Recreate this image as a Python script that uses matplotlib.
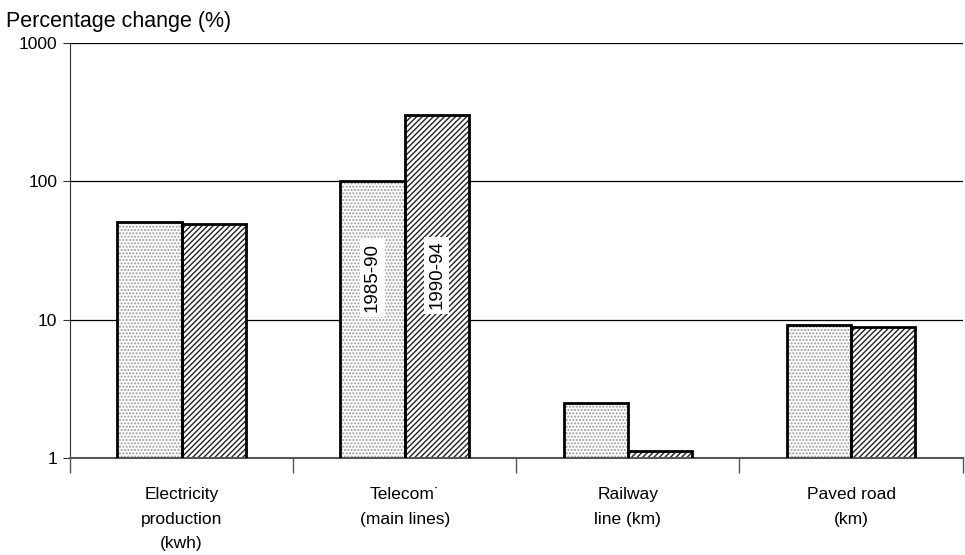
import numpy as np
import matplotlib.pyplot as plt

plt.rcParams['font.family'] = ['Liberation Sans', 'DejaVu Sans']

categories = ['Electricity\nproduction\n(kwh)', 'Telecom\u02d9\n(main lines)',
              'Railway\nline (km)', 'Paved road\n(km)']
period_1 = [51, 100, 2.5, 9.1]     # 1985-90
period_2 = [49, 300, 1.12, 8.8]    # 1990-94
periods = ['1985-90', '1990-94']

fig = plt.figure(figsize=(9.65, 5.55), dpi=100)
ax = fig.add_axes([0.0725, 0.175, 0.925, 0.7475])

x = np.arange(len(categories))
w = 0.288

# hatch layer drawn in its own colour, outline on top
ax.bar(x - w / 2, period_1, w, bottom=0, color='white', edgecolor='#9a9a9a',
       hatch='.....', linewidth=0, zorder=2)
ax.bar(x + w / 2, period_2, w, bottom=0, color='white', edgecolor='#222222',
       hatch='//////', linewidth=0, zorder=2)
ax.bar(x - w / 2, period_1, w, color='none', edgecolor='black', linewidth=2, zorder=3)
ax.bar(x + w / 2, period_2, w, color='none', edgecolor='black', linewidth=2, zorder=3)

ax.set_yscale('log')
ax.set_ylim(1, 1000)
ax.set_xlim(-0.5, len(categories) - 0.5)
ax.set_yticks([1, 10, 100, 1000])
ax.set_yticklabels(['1', '10', '100', '1000'])
ax.yaxis.set_minor_locator(plt.NullLocator())
ax.grid(axis='y', color='black', linewidth=0.9, zorder=0)

for s in ['right', 'top']:
    ax.spines[s].set_visible(False)
ax.spines['left'].set_color('#333333')
ax.spines['bottom'].set_color('#555555')
ax.spines['bottom'].set_linewidth(1.5)
ax.tick_params(axis='y', length=5, color='#333333', labelsize=12.5, pad=4)

ax.set_xticks(x)
ax.set_xticklabels(categories, fontsize=12.5, linespacing=1.8)
ax.tick_params(axis='x', length=0, pad=21)
ax.set_xticks(np.arange(len(categories) + 1) - 0.5, minor=True)
ax.tick_params(axis='x', which='minor', length=11, width=1, color='#555555')

# period labels inside the telecom bars
ax.text(1 - w / 2, 20, periods[0], rotation=90, ha='center', va='center',
        fontsize=13.5, zorder=4,
        bbox=dict(facecolor='white', edgecolor='none', pad=3))
ax.text(1 + w / 2, 21, periods[1], rotation=90, ha='center', va='center',
        fontsize=13.5, zorder=4,
        bbox=dict(facecolor='white', edgecolor='none', pad=3))

fig.text(0.006, 0.962, 'Percentage change (%)', fontsize=15.5, va='center')

fig.savefig('out.png', dpi=100)
